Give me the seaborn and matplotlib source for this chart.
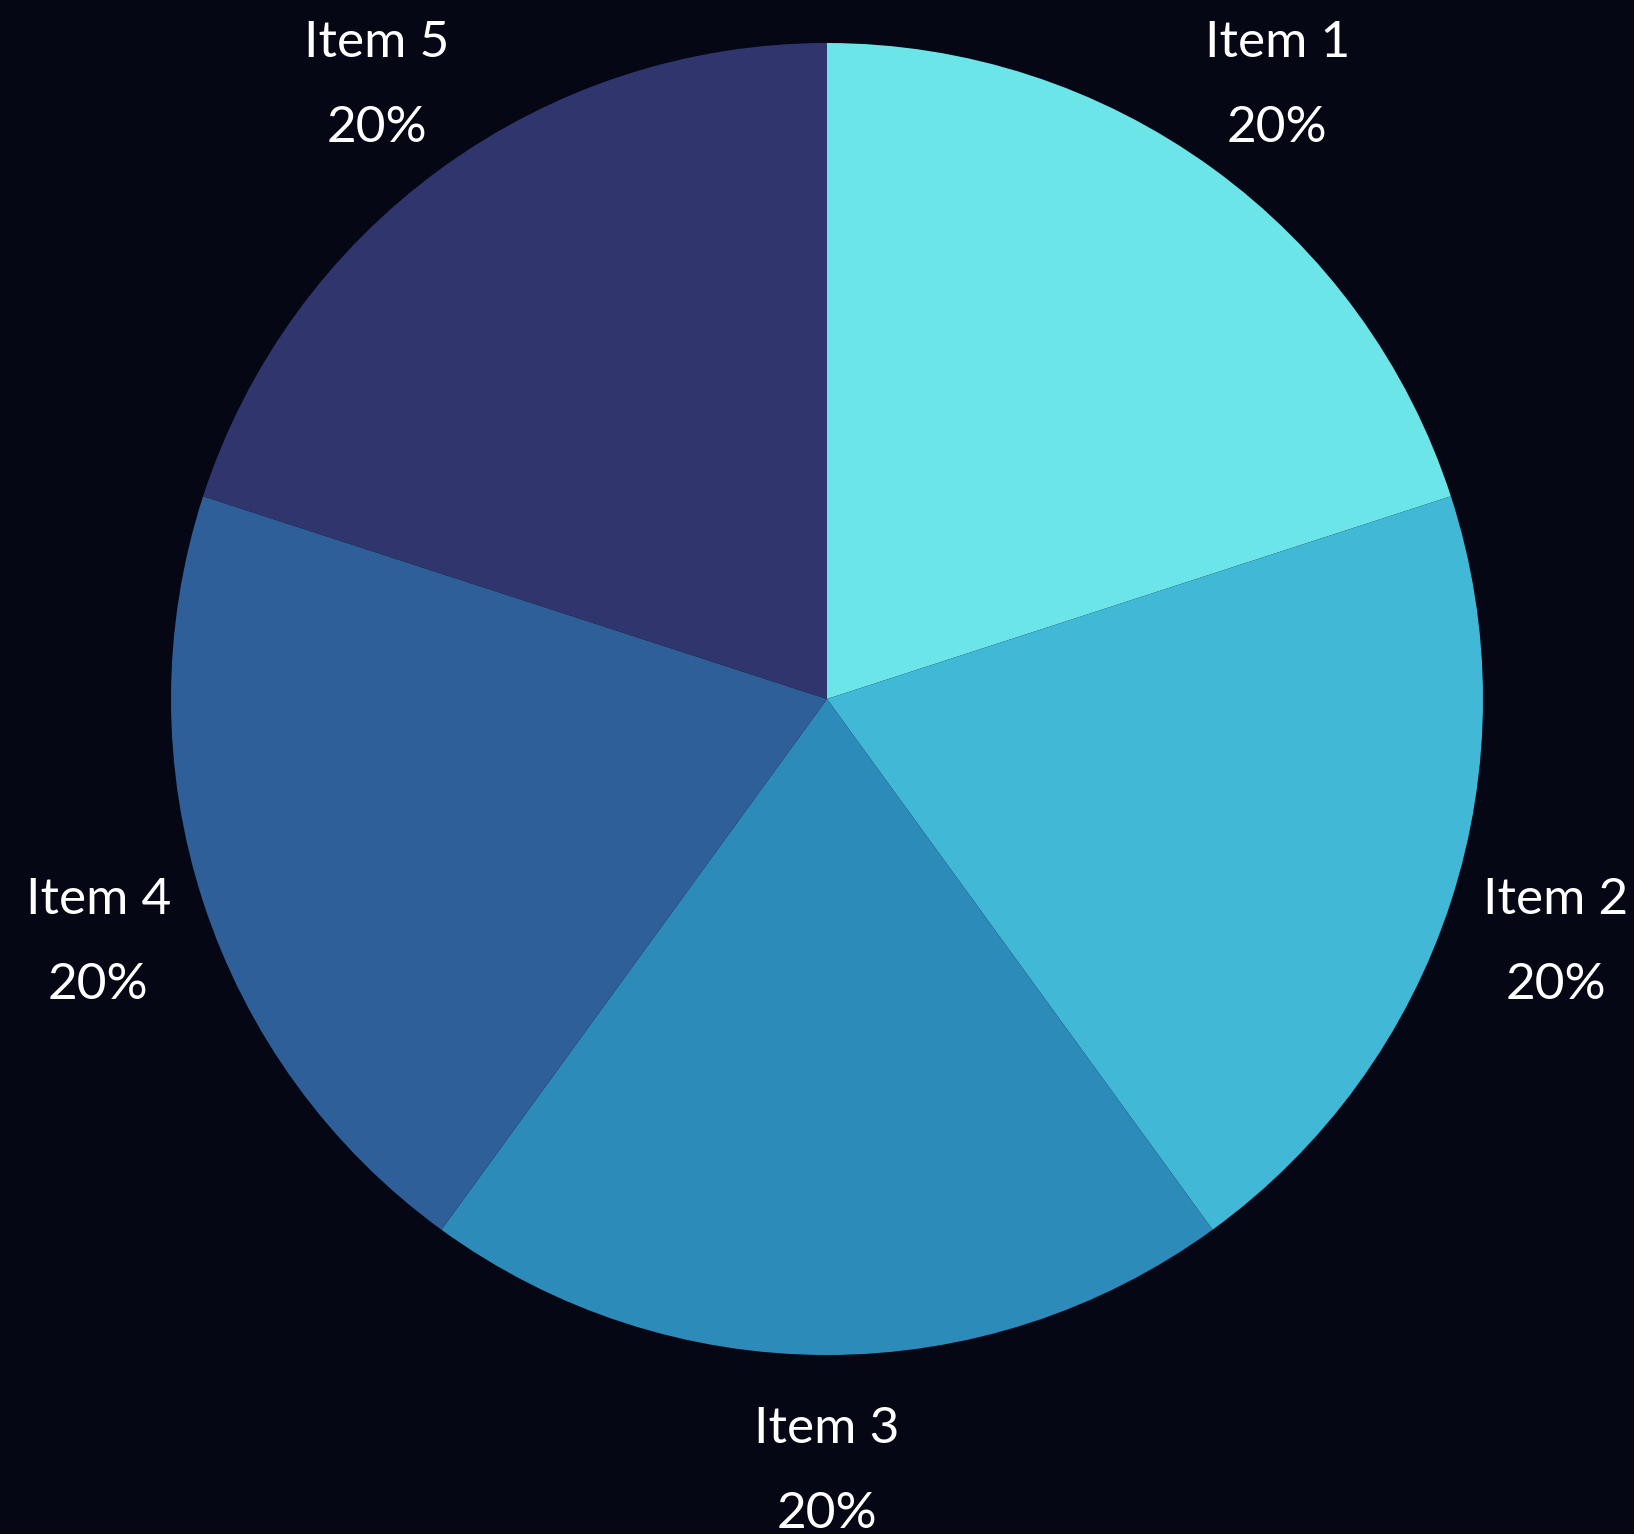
import matplotlib
matplotlib.use("Agg")
import matplotlib.pyplot as plt
import seaborn as sns

# data
items = ["Item 1", "Item 2", "Item 3", "Item 4", "Item 5"]
values = [20, 20, 20, 20, 20]
colors = ["#6ce5e8", "#41b8d5", "#2d8bba", "#2f5f98", "#31356e"]
bg = "#060714"

sns.set_theme(style="white")
plt.rcParams["font.family"] = ["Lato", "DejaVu Sans"]

total = sum(values)
labels = [f"{name}\n{v / total * 100:.0f}%" for name, v in zip(items, values)]

# pie centre at (827, 699) px from top-left, radius ~656 px
r = 656

fig = plt.figure(figsize=(16.34, 15.34), dpi=100, facecolor=bg)
ax = fig.add_axes([0, 0, 1, 1])
ax.set_facecolor(bg)

wedges, texts = ax.pie(values, labels=labels, colors=sns.color_palette(colors),
                       startangle=90, counterclock=False, labeldistance=1.168,
                       wedgeprops={"linewidth": 0},
                       textprops={"color": "white", "fontsize": 37})
for t in texts:
    t.set_ha("center")
    t.set_va("center")
    t.set_linespacing(2.04)
    # nudge down so the first line stays put with the wider spacing
    t.set_y(t.get_position()[1] - 6.5 / r)

ax.set_xlim(-827 / r, (1634 - 827) / r)
ax.set_ylim(-(1534 - 699) / r, 699 / r)
ax.axis("off")

fig.savefig("out.png", dpi=100, facecolor=bg)
